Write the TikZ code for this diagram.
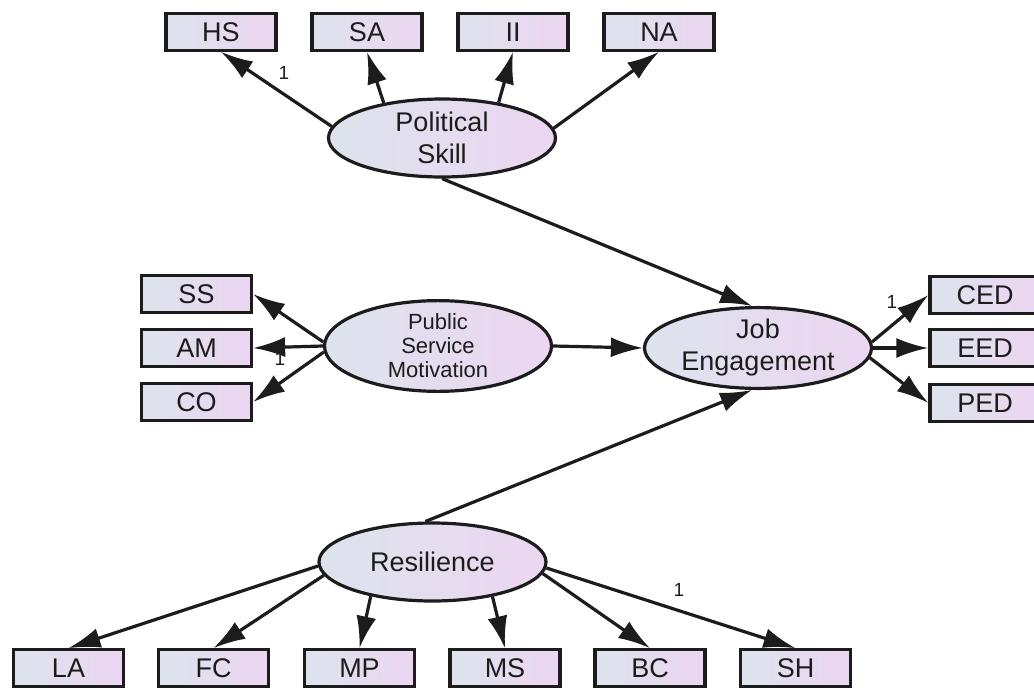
\documentclass[tikz,border=0pt]{standalone}
\usepackage{fontspec}
\setmainfont{Liberation Sans}
\usetikzlibrary{arrows.meta,shapes.geometric}
\definecolor{shadeL}{RGB}{221,227,237}
\definecolor{shadeR}{RGB}{236,214,241}
\definecolor{ink}{RGB}{28,28,28}

\begin{document}
\begin{tikzpicture}[x=1pt,y=-1pt,
  obs/.style={draw=ink, line width=3.2pt, left color=shadeL, right color=shadeR,
    minimum width=110pt, minimum height=36.5pt, inner sep=0pt,
    font=\fontsize{27}{30}\selectfont, text=ink},
  lat/.style={ellipse, draw=ink, line width=3.2pt, left color=shadeL, right color=shadeR,
    minimum width=227pt, minimum height=78pt, inner sep=0pt, align=center,
    font=\fontsize{27}{32}\selectfont, text=ink},
  reg/.style={draw=ink, line width=3.2pt, -{Latex[length=32pt,width=20pt]}},
  one/.style={font=\fontsize{19}{22}\selectfont, text=ink, inner sep=0pt}]

\useasboundingbox (0,0) rectangle (1034,691);
\clip (0,0) rectangle (1034,691);

% latent variables
\node[lat] (ps)  at (442,138) {Political\\Skill};
\node[lat, font=\fontsize{22}{24}\selectfont] (psm) at (438,346) {Public\\Service\\Motivation};
\node[lat] (je)  at (758,348) {Job\\Engagement};
\node[lat] (res) at (432.5,562) {Resilience};

% indicators of Political Skill
\node[obs] (hs) at (221,32) {HS};
\node[obs] (sa) at (367,32) {SA};
\node[obs] (ii) at (513,32) {II};
\node[obs] (na) at (659,32) {NA};

% indicators of Public Service Motivation
\node[obs] (ss) at (196.5,294) {SS};
\node[obs] (am) at (196.5,348) {AM};
\node[obs] (co) at (196.5,402) {CO};

% indicators of Job Engagement
\node[obs] (ced) at (985,295) {CED};
\node[obs] (eed) at (985,348) {EED};
\node[obs] (ped) at (985,403) {PED};

% indicators of Resilience
\node[obs] (la) at (68.5,668) {LA};
\node[obs] (fc) at (213.5,668) {FC};
\node[obs] (mp) at (359.5,668) {MP};
\node[obs] (ms) at (505,668) {MS};
\node[obs] (bc) at (650,668) {BC};
\node[obs] (sh) at (795.5,668) {SH};

% fixed loadings
\node[one] (f1) at (284,73) {1};
\node[one] (f2) at (280,359) {1};
\node[one] (f3) at (892,302) {1};
\node[one] (f4) at (679,590) {1};

% measurement paths
\draw[reg] (ps.174.5) -- (hs.south);
\draw[reg] (ps.149) -- (sa.south);
\draw[reg] (ps.32) -- (ii.south);
\draw[reg] (ps.5) -- (na.south);

\draw[reg] (psm.178) -- (ss.east);
\draw[reg] (psm.180) -- (am.east);
\draw[reg] (psm.183) -- (co.east);

\draw[reg] (je.3) -- (ced.west);
\draw[reg] (je.0) -- (eed.west);
\draw[reg] (je.355.5) -- (ped.west);

\draw[reg] (res.182.5) -- (la.north);
\draw[reg] (res.187) -- (fc.north);
\draw[reg] (res.209) -- (mp.north);
\draw[reg] (res.330) -- (ms.north);
\draw[reg] (res.354.5) -- (bc.north);
\draw[reg] (res.357.5) -- (sh.north);

% structural paths
\draw[reg] (ps.270) -- (je.98);
\draw[reg] (psm.0) -- (je.180);
\draw[reg] (res.100) -- (je.262);
\end{tikzpicture}
\end{document}
